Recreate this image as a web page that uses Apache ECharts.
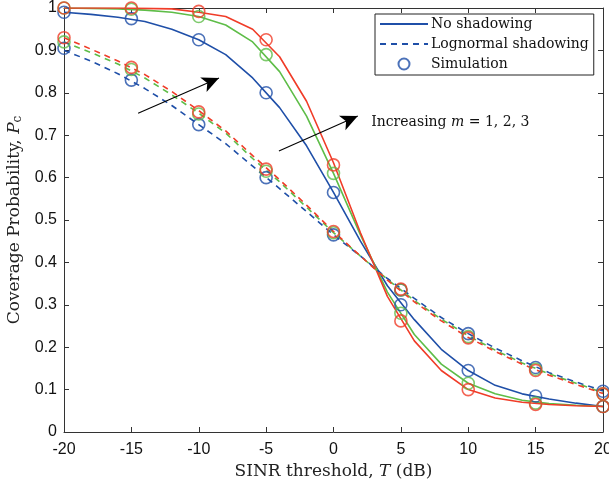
<!DOCTYPE html>
<html>
<head>
<meta charset="utf-8">
<script src="https://cdn.jsdelivr.net/npm/echarts@6/dist/echarts.min.js"></script>
<style>
  html, body { margin: 0; padding: 0; background: #fff; }
  #chart { width: 609px; height: 486px; }
</style>
</head>
<body>
<div id="chart"></div>
<script>
// analytic curves, 2 dB steps
const xLine = [-20, -18, -16, -14, -12, -10, -8, -6, -4, -2, 0, 2, 4, 6, 8, 10, 12, 14, 16, 18, 20];
const noShadow1 = [0.99, 0.985, 0.978, 0.968, 0.95, 0.925, 0.89, 0.835, 0.765, 0.675, 0.565, 0.45, 0.345, 0.265, 0.195, 0.145, 0.11, 0.09, 0.078, 0.068, 0.06];
const noShadow2 = [1.0, 0.999, 0.998, 0.995, 0.99, 0.98, 0.96, 0.92, 0.85, 0.745, 0.61, 0.465, 0.33, 0.23, 0.16, 0.115, 0.09, 0.075, 0.067, 0.063, 0.06];
const noShadow3 = [1.0, 1.0, 1.0, 0.999, 0.998, 0.99, 0.98, 0.95, 0.885, 0.78, 0.635, 0.47, 0.32, 0.215, 0.145, 0.1, 0.08, 0.07, 0.065, 0.062, 0.06];
const logn1 = [0.90, 0.875, 0.845, 0.81, 0.77, 0.725, 0.68, 0.627, 0.574, 0.52, 0.465, 0.415, 0.362, 0.315, 0.27, 0.232, 0.198, 0.168, 0.14, 0.118, 0.097];
const logn2 = [0.92, 0.895, 0.868, 0.835, 0.795, 0.752, 0.705, 0.645, 0.59, 0.53, 0.47, 0.415, 0.36, 0.31, 0.266, 0.227, 0.193, 0.163, 0.137, 0.115, 0.093];
const logn3 = [0.93, 0.903, 0.875, 0.843, 0.803, 0.758, 0.71, 0.652, 0.595, 0.535, 0.473, 0.415, 0.358, 0.307, 0.262, 0.223, 0.19, 0.16, 0.134, 0.112, 0.091];

// simulation points, 5 dB steps
const xSim = [-20, -15, -10, -5, 0, 5, 10, 15, 20];
const simNo1 = [0.99, 0.975, 0.925, 0.80, 0.565, 0.30, 0.145, 0.085, 0.06];
const simNo2 = [1.0, 0.997, 0.98, 0.89, 0.61, 0.28, 0.115, 0.068, 0.06];
const simNo3 = [1.0, 1.0, 0.992, 0.925, 0.63, 0.262, 0.10, 0.065, 0.06];
const simLn1 = [0.905, 0.83, 0.725, 0.60, 0.465, 0.335, 0.232, 0.152, 0.096];
const simLn2 = [0.92, 0.855, 0.75, 0.615, 0.47, 0.335, 0.225, 0.148, 0.09];
const simLn3 = [0.93, 0.86, 0.755, 0.62, 0.473, 0.337, 0.222, 0.145, 0.09];

const colors = ['#1f4fa8', '#5ebd48', '#f03c28'];
const serif = 'DejaVu Serif';
const sans = 'Liberation Sans';
const axisColor = '#333';

const pairs = (xs, ys) => xs.map((x, i) => [x, ys[i]]);

function lineSeries(name, ys, color, dashed) {
    return {
        name: name, type: 'line', data: pairs(xLine, ys),
        symbol: 'none', showSymbol: false,
        lineStyle: { color: color, width: 1.6, type: dashed ? [6, 5] : 'solid' },
        itemStyle: { color: color },
        z: 2
    };
}

function simSeries(name, ys, color) {
    return {
        name: name, type: 'scatter', data: pairs(xSim, ys),
        symbol: 'circle', symbolSize: 12,
        itemStyle: { color: 'rgba(0,0,0,0)', borderColor: color, borderWidth: 1.6 },
        z: 3
    };
}

const series = [
    lineSeries('No shadowing', noShadow1, colors[0], false),
    lineSeries('m2 solid', noShadow2, colors[1], false),
    lineSeries('m3 solid', noShadow3, colors[2], false),
    lineSeries('Lognormal shadowing', logn1, colors[0], true),
    lineSeries('m2 dashed', logn2, colors[1], true),
    lineSeries('m3 dashed', logn3, colors[2], true),
    simSeries('Simulation', simNo1, colors[0]),
    simSeries('sim2', simNo2, colors[1]),
    simSeries('sim3', simNo3, colors[2]),
    simSeries('sim1d', simLn1, colors[0]),
    simSeries('sim2d', simLn2, colors[1]),
    simSeries('sim3d', simLn3, colors[2]),
    {
        // annotation arrows and text
        name: 'notes', type: 'line', data: [],
        markLine: {
            silent: true, animation: false,
            symbol: ['none', 'arrow'], symbolSize: [12, 17],
            lineStyle: { color: '#000', width: 1.1, type: 'solid' },
            label: { show: false },
            data: [
                [{ coord: [-14.5, 0.752] }, { coord: [-8.5, 0.835] }],
                [{ coord: [-4.05, 0.663] }, { coord: [1.8, 0.745] }]
            ]
        },
        markPoint: {
            silent: true, animation: false,
            symbol: 'circle', symbolSize: 0,
            data: [{ coord: [2.8, 0.731] }],
            label: {
                show: true, position: 'right', distance: 0,
                formatter: '{a|Increasing }{i|m}{a| = 1, 2, 3}',
                rich: {
                    a: { fontFamily: serif, fontSize: 14, color: '#111' },
                    i: { fontFamily: serif, fontSize: 14, fontStyle: 'italic', color: '#111' }
                }
            }
        }
    }
];

const chart = echarts.init(document.getElementById('chart'), null, { renderer: 'canvas' });
chart.setOption({
    animation: false,
    backgroundColor: '#fff',
    grid: { left: 64, right: 6, top: 8, bottom: 54, containLabel: false, outerBoundsMode: 'none' },
    legend: {
        data: [
            { name: 'No shadowing', itemStyle: { opacity: 0 } },
            { name: 'Lognormal shadowing', itemStyle: { opacity: 0 } },
            { name: 'Simulation' }
        ],
        orient: 'vertical', left: 375, top: 14,
        backgroundColor: '#fff', borderColor: '#222', borderWidth: 1,
        padding: [3, 5, 4, 4], itemGap: 6,
        itemWidth: 48, itemHeight: 11,
        textStyle: { fontFamily: serif, fontSize: 14, color: '#111', padding: [0, 0, 0, -2] }
    },
    xAxis: [{
        type: 'value', min: -20, max: 20, interval: 5,
        name: '{a|SINR threshold, }{i|T}{a| (dB)}',
        nameLocation: 'middle', nameGap: 30,
        nameTextStyle: {
            rich: {
                a: { fontFamily: serif, fontSize: 17, color: '#222' },
                i: { fontFamily: serif, fontSize: 17, fontStyle: 'italic', color: '#222' }
            }
        },
        axisLine: { onZero: false, lineStyle: { color: axisColor, width: 1 } },
        axisTick: { inside: true, length: 5, lineStyle: { color: axisColor } },
        axisLabel: { fontFamily: sans, fontSize: 16, color: '#111', margin: 10 },
        splitLine: { show: false }
    }, {
        type: 'value', min: -20, max: 20, interval: 5, position: 'top',
        axisLine: { onZero: false, lineStyle: { color: axisColor, width: 1 } },
        axisTick: { inside: true, length: 5, lineStyle: { color: axisColor } },
        axisLabel: { show: false }, splitLine: { show: false }
    }],
    yAxis: [{
        type: 'value', min: 0, max: 1, interval: 0.1,
        name: '{a|Coverage Probability, }{i|P}{s|c}',
        nameLocation: 'middle', nameGap: 38, nameRotate: 90,
        nameTextStyle: {
            rich: {
                a: { fontFamily: serif, fontSize: 17, color: '#222' },
                i: { fontFamily: serif, fontSize: 17, fontStyle: 'italic', color: '#222' },
                s: { fontFamily: serif, fontSize: 12, color: '#222', padding: [7, 0, 0, 0] }
            }
        },
        axisLine: { show: true, onZero: false, lineStyle: { color: axisColor, width: 1 } },
        axisTick: { show: true, inside: true, length: 5, lineStyle: { color: axisColor } },
        axisLabel: {
            fontFamily: sans, fontSize: 16, color: '#111', margin: 7,
            formatter: v => (Math.round(v * 10) / 10).toString()
        },
        splitLine: { show: false }
    }, {
        type: 'value', min: 0, max: 1, interval: 0.1, position: 'right',
        axisLine: { show: true, onZero: false, lineStyle: { color: axisColor, width: 1 } },
        axisTick: { show: true, inside: true, length: 5, lineStyle: { color: axisColor } },
        axisLabel: { show: false }, splitLine: { show: false }
    }],
    series: series
});
</script>
</body>
</html>
